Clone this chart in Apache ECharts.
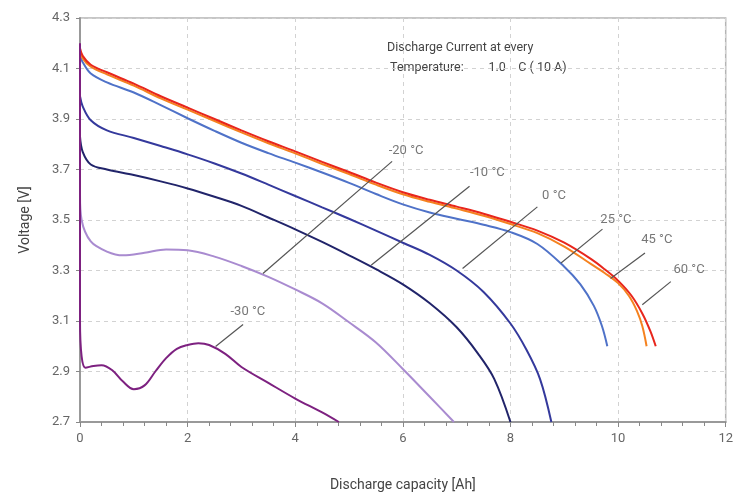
<!DOCTYPE html>
<html>
<head>
<meta charset="utf-8">
<script src="https://cdn.jsdelivr.net/npm/echarts@6/dist/echarts.min.js"></script>
<style>
  html, body { margin: 0; padding: 0; background: #fff; }
  #chart { width: 736px; height: 497px; }
</style>
</head>
<body>
<div id="chart"></div>
<script>
// discharge curves, capacity [Ah] / voltage [V] per temperature
const cap60 = [0, 0.05, 0.2, 0.5, 1, 1.5, 2, 2.5, 3, 3.5, 4, 4.5, 5, 5.5, 6, 6.5, 7, 7.5, 8, 8.5, 9, 9.5, 9.75, 10, 10.25, 10.45, 10.6, 10.7];
const volt60 = [4.18, 4.15, 4.115, 4.085, 4.04, 3.99, 3.945, 3.90, 3.855, 3.812, 3.772, 3.73, 3.69, 3.648, 3.61, 3.58, 3.553, 3.525, 3.493, 3.458, 3.41, 3.345, 3.305, 3.26, 3.20, 3.13, 3.06, 3.0];

const cap45 = [0, 0.05, 0.2, 0.5, 1, 1.5, 2, 2.5, 3, 3.5, 4, 4.5, 5, 5.5, 6, 6.5, 7, 7.5, 8, 8.5, 9, 9.5, 9.75, 10, 10.2, 10.35, 10.45, 10.53];
const volt45 = [4.17, 4.14, 4.107, 4.077, 4.032, 3.982, 3.937, 3.892, 3.847, 3.804, 3.764, 3.722, 3.682, 3.64, 3.602, 3.572, 3.545, 3.517, 3.484, 3.448, 3.395, 3.325, 3.29, 3.25, 3.20, 3.14, 3.08, 3.0];

const cap25 = [0, 0.05, 0.2, 0.5, 1, 1.5, 2, 2.5, 3, 3.5, 4, 4.5, 5, 5.5, 6, 6.5, 7, 7.5, 8, 8.5, 9, 9.3, 9.55, 9.7, 9.8];
const volt25 = [4.15, 4.125, 4.08, 4.045, 4.005, 3.955, 3.903, 3.853, 3.806, 3.765, 3.727, 3.688, 3.647, 3.603, 3.562, 3.53, 3.505, 3.481, 3.452, 3.405, 3.315, 3.245, 3.16, 3.08, 3.0];

const cap0 = [0, 0.05, 0.2, 0.5, 1, 1.5, 2, 2.5, 3, 3.5, 4, 4.5, 5, 5.5, 6, 6.5, 7, 7.5, 8, 8.3, 8.55, 8.76];
const volt0 = [3.99, 3.95, 3.895, 3.855, 3.825, 3.793, 3.76, 3.724, 3.684, 3.64, 3.595, 3.55, 3.505, 3.458, 3.41, 3.362, 3.30, 3.215, 3.09, 2.985, 2.87, 2.70];

const capM10 = [0, 0.05, 0.2, 0.5, 1, 1.5, 2, 2.5, 3, 3.5, 4, 4.5, 5, 5.5, 6, 6.5, 7, 7.4, 7.7, 8];
const voltM10 = [3.83, 3.77, 3.72, 3.70, 3.678, 3.653, 3.625, 3.592, 3.556, 3.51, 3.463, 3.413, 3.36, 3.305, 3.245, 3.17, 3.075, 2.97, 2.87, 2.70];

const capM20 = [0, 0.03, 0.2, 0.5, 0.8, 1.2, 1.6, 2, 2.5, 3, 3.5, 4, 4.5, 5, 5.5, 6, 6.5, 6.95];
const voltM20 = [3.6, 3.5, 3.415, 3.375, 3.36, 3.37, 3.383, 3.38, 3.355, 3.318, 3.275, 3.225, 3.17, 3.095, 3.015, 2.91, 2.80, 2.70];

const capM30 = [0, 0, 0.03, 0.1, 0.25, 0.4, 0.6, 0.8, 1.0, 1.2, 1.4, 1.6, 1.8, 2.0, 2.2, 2.4, 2.7, 3.0, 3.5, 4, 4.5, 4.81];
const voltM30 = [4.2, 3.1, 2.96, 2.915, 2.922, 2.925, 2.905, 2.86, 2.83, 2.845, 2.9, 2.953, 2.99, 3.005, 3.012, 3.005, 2.97, 2.918, 2.855, 2.793, 2.738, 2.70];

// curve labels and their leader lines (data units)
const tempLabels = ['-20 °C', '-10 °C', '0 °C', '25 °C', '45 °C', '60 °C', '-30 °C'];
const labelCap = [6.06, 7.57, 8.81, 9.96, 10.72, 11.32, 3.12];
const labelVolt = [3.773, 3.686, 3.596, 3.502, 3.42, 3.302, 3.138];
const leadFromCap = [5.80, 7.24, 8.50, 9.71, 10.50, 10.98, 3.03];
const leadFromVolt = [3.732, 3.634, 3.552, 3.464, 3.369, 3.256, 3.086];
const leadToCap = [3.40, 5.41, 7.11, 8.94, 9.86, 10.45, 2.52];
const leadToVolt = [3.288, 3.321, 3.308, 3.330, 3.268, 3.164, 2.999];

const zip = (xs, ys) => xs.map((x, i) => [x, ys[i]]);

function curve(name, xs, ys, color) {
  return {
    name: name,
    type: 'line',
    data: zip(xs, ys),
    smooth: 0.35,
    showSymbol: false,
    silent: true,
    lineStyle: { color: color, width: 2 },
    itemStyle: { color: color },
    z: 3
  };
}

const chart = echarts.init(document.getElementById('chart'));

const leaderLines = tempLabels.map((t, i) => [
  { coord: [leadFromCap[i], leadFromVolt[i]] },
  { coord: [leadToCap[i], leadToVolt[i]] }
]);

chart.setOption({
  animation: false,
  backgroundColor: '#fff',
  textStyle: { fontFamily: 'Roboto, sans-serif' },
  grid: {
    left: 80, right: 9, top: 18, bottom: 70,
    show: true, borderColor: '#b4b4b4', borderWidth: 1.5
  },
  graphic: [{
    type: 'text',
    left: 387, top: 38,
    style: {
      text: 'Discharge Current at every\n Temperature:        1.0    C ( 10 A)',
      fill: '#444',
      font: '12.5px Roboto, sans-serif',
      lineHeight: 20
    }
  }],
  xAxis: {
    type: 'value',
    min: 0, max: 12, interval: 2,
    name: 'Discharge capacity [Ah]',
    nameLocation: 'middle',
    nameGap: 56,
    nameTextStyle: { color: '#444', fontSize: 14 },
    axisLine: { lineStyle: { color: '#999', width: 2 } },
    axisTick: { show: true, length: 5, lineStyle: { color: '#888' } },
    minorTick: { show: true, splitNumber: 5, length: 4, lineStyle: { color: '#888' } },
    axisLabel: { color: '#666', fontSize: 13, margin: 10 },
    splitLine: { show: true, lineStyle: { color: '#d2d2d2', type: [4, 4] } }
  },
  yAxis: {
    type: 'value',
    min: 2.7, max: 4.3, interval: 0.2,
    name: 'Voltage [V]',
    nameLocation: 'middle',
    nameGap: 48,
    nameTextStyle: { color: '#444', fontSize: 14 },
    axisLine: { show: true, lineStyle: { color: '#999', width: 2 } },
    axisTick: { show: true, length: 4, lineStyle: { color: '#888' } },
    axisLabel: { color: '#666', fontSize: 13, margin: 10, formatter: v => v.toFixed(1) },
    splitLine: { show: true, lineStyle: { color: '#d2d2d2', type: [4, 4] } }
  },
  series: [
    curve('-20 °C', capM20, voltM20, '#a98bd0'),
    curve('-10 °C', capM10, voltM10, '#21246a'),
    curve('0 °C', cap0, volt0, '#34399c'),
    curve('25 °C', cap25, volt25, '#4f72c8'),
    curve('45 °C', cap45, volt45, '#f5821f'),
    curve('60 °C', cap60, volt60, '#e8261c'),
    curve('-30 °C', capM30, voltM30, '#7d2180'),
    {
      name: 'leaders',
      type: 'line',
      data: [],
      silent: true,
      markLine: {
        symbol: ['none', 'none'],
        silent: true,
        animation: false,
        label: { show: false },
        lineStyle: { color: '#555', width: 1.2, type: 'solid' },
        data: leaderLines
      },
      z: 4
    },
    {
      name: 'labels',
      type: 'scatter',
      symbolSize: 1,
      silent: true,
      itemStyle: { color: 'transparent' },
      data: tempLabels.map((t, i) => [labelCap[i], labelVolt[i], t]),
      label: {
        show: true,
        position: 'inside',
        formatter: p => p.value[2],
        color: '#555',
        fontSize: 13
      },
      z: 5
    }
  ]
});
</script>
</body>
</html>
